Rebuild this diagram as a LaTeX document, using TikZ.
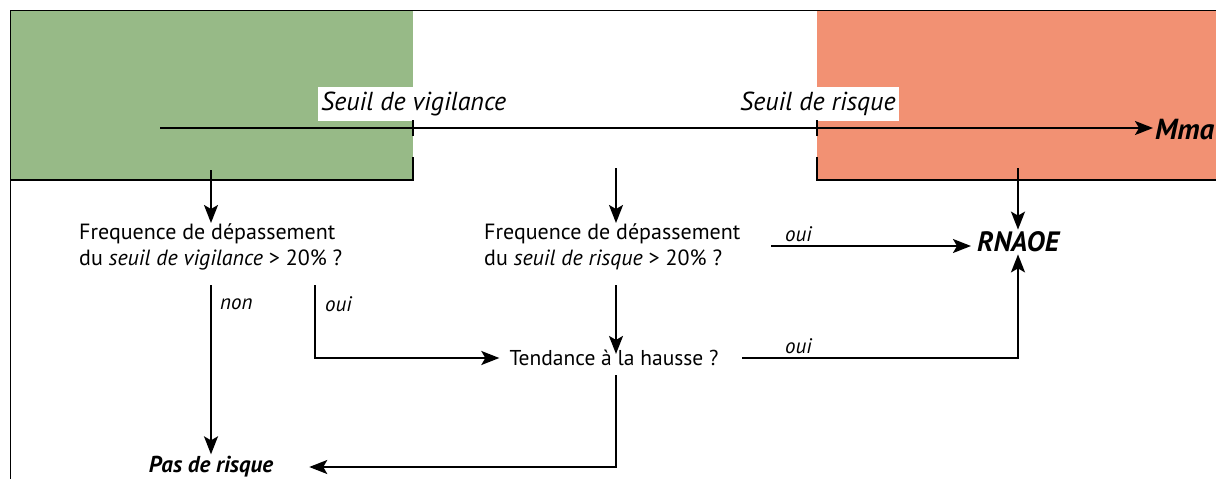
\documentclass[tikz,border=0pt]{standalone}
\usepackage{fontspec}
\setmainfont{PT Sans}
\usetikzlibrary{arrows.meta}
\definecolor{vert}{HTML}{97BA87}
\definecolor{rouge}{HTML}{F29173}
\tikzset{
  arr/.style={line width=2pt,-{Stealth[length=18pt,width=14pt,inset=4pt]}},
  ln/.style={line width=2pt},
  qtext/.style={font=\fontsize{22}{26}\selectfont, align=left, inner sep=0pt},
  lab/.style={font=\fontsize{21}{24}\selectfont\itshape, inner sep=0pt},
  seuil/.style={font=\fontsize{26}{30}\selectfont\itshape, fill=white, inner xsep=3pt, inner ysep=5pt},
  big/.style={font=\fontsize{28}{32}\selectfont\bfseries\itshape, inner sep=2pt},
}
\begin{document}
\begin{tikzpicture}[x=1pt,y=-1pt]
\useasboundingbox (0,0) rectangle (1216,479);
\fill[vert] (10,10) rectangle (413,180);
\fill[rouge] (817,10) rectangle (1216,180);
\draw[line width=0.8pt] (1216,10) -- (10,10) -- (10,479);
\draw[ln] (10,180) -- (413,180) -- (413,157);
\draw[ln] (817,157) -- (817,180) -- (1216,180);
% axis
\node[seuil, anchor=south west] (sv) at (318,121) {Seuil de vigilance};
\node[seuil, anchor=south west] (sr) at (737,121) {Seuil de risque};
\node[big, anchor=west, font=\fontsize{29}{32}\selectfont\bfseries\itshape] (mm) at (1153,130) {Mma};
\coordinate (ax0) at (160,128);
\draw[arr] (ax0) -- (mm.west |- ax0);
\coordinate (tk1) at (413,128);
\coordinate (tk2) at (817,128);
\draw[ln] ([yshift=-8]tk1) -- ([yshift=8]tk1);
\draw[ln] ([yshift=-8]tk2) -- ([yshift=8]tk2);
% questions
\node[qtext, anchor=north west] (q1) at (79,223) {Frequence de dépassement\\du \textit{seuil de vigilance} > 20\% ?};
\node[qtext, anchor=north west] (q2) at (484,223) {Frequence de dépassement\\du \textit{seuil de risque} > 20\% ?};
\node[big] (rn) at (1018,242) {RNAOE};
\node[qtext, inner xsep=4pt, font=\fontsize{21.5}{26}\selectfont] (td) at (614,358) {Tendance à la hausse ?};
\node[big, font=\fontsize{23}{28}\selectfont\bfseries\itshape] (pr) at (211,467) {Pas de risque};
% connectors
\coordinate (a1) at (211,170);
\draw[arr] (a1) -- (a1 |- q1.north);
\coordinate (a2) at (616,168);
\draw[arr] (a2) -- (a2 |- q2.north);
\coordinate (a3) at (1018,168);
\draw[arr] (a3) -- (rn.north);
\coordinate (n1) at (211,285);
\draw[arr] (n1) -- (n1 |- pr.north);
\coordinate (o1) at (315,285);
\draw[arr] (o1) |- ([xshift=-6]td.west);
\coordinate (t1) at (616,285);
\draw[arr] (t1) -- ([yshift=-4]t1 |- td.north);
\coordinate (r1) at (771,246);
\draw[arr] (r1) -- ([xshift=-4]r1 -| rn.west);
\coordinate (t2) at (742,358);
\draw[arr] (t2) -| (rn.south);
\coordinate (t3) at (616,375);
\draw[arr] (t3) |- ([xshift=34]pr.east);
% labels
\node[lab, anchor=west] (ln1) at (220,304) {non};
\node[lab, anchor=west] (lo1) at (325,304) {oui};
\node[lab, anchor=west] (lo2) at (785,234) {oui};
\node[lab, anchor=west] (lo3) at (785,346) {oui};
\end{tikzpicture}
\end{document}
